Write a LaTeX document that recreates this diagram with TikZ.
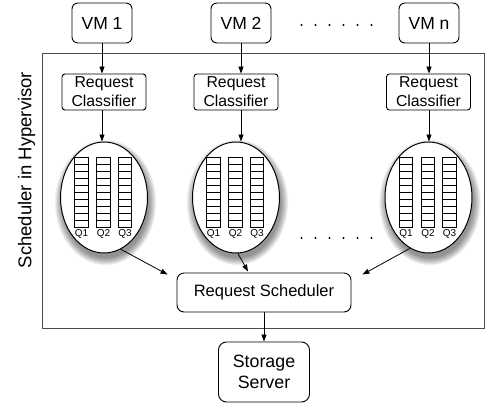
\documentclass[tikz,border=0pt]{standalone}
\usepackage{fontspec}
\setmainfont{Liberation Sans}
\usetikzlibrary{shapes.geometric,arrows.meta,calc}

\begin{document}
\begin{tikzpicture}[x=1pt,y=-1pt,
  box/.style={draw,line width=0.9pt,inner sep=0pt,align=center},
  vmbox/.style={box,rounded corners=6pt,minimum width=60pt,minimum height=40pt,
    font=\fontsize{17.5}{21}\selectfont},
  clsbox/.style={box,rounded corners=3pt,minimum width=84pt,minimum height=36pt,
    font=\fontsize{15.8}{19}\selectfont},
  schedbox/.style={box,rounded corners=7pt,minimum width=174pt,minimum height=39pt,
    font=\fontsize{16.5}{20}\selectfont},
  storebox/.style={box,rounded corners=8pt,minimum width=91pt,minimum height=60pt,
    font=\fontsize{17.8}{21}\selectfont},
  pool/.style={ellipse,draw,fill=white,line width=1pt,
    minimum width=87pt,minimum height=111pt,inner sep=0pt},
  qcell/.style={draw,line width=0.7pt},
  qlab/.style={inner sep=0pt,font=\fontsize{10}{11}\selectfont},
  arr/.style={-{Stealth[length=7pt,width=5pt,inset=0pt]},line width=0.8pt},
  hvframe/.style={draw=black!70,line width=0.9pt},
  dotmark/.style={fill=black},
]
\useasboundingbox (0,0) rectangle (488,405);

% hypervisor frame and its label
\draw[hvframe] (42,53) rectangle (484,328);
\node[rotate=90,font=\fontsize{18.5}{22}\selectfont] (hvlabel) at (26.5,170)
  {Scheduler in Hypervisor};

% virtual machines
\node[vmbox] (vm1) at (102,23) {VM 1};
\node[vmbox] (vm2) at (241,23) {VM 2};
\node[vmbox] (vmn) at (429,23) {VM n};
\foreach \k in {0,...,5} \fill[dotmark] (301.5+\k*14,25) circle (1.1);

% per-VM request classifiers
\node[clsbox] (cls1) at (104,92) {Request\\Classifier};
\node[clsbox] (cls2) at (236,92) {Request\\Classifier};
\node[clsbox] (clsn) at (428.5,92) {Request\\Classifier};

% soft shadows beneath the queue pools
\foreach \cx in {104,236,428.5} {
  \foreach \i in {1,...,9} {
    \fill[black,opacity=0.06] (\cx+1.5,202.5)
      ellipse [x radius=42.5pt+\i*0.9pt, y radius=54.5pt+\i*0.9pt];
  }
}

% queue pools
\node[pool] (e1) at (104,197.5) {};
\node[pool] (e2) at (236,197.5) {};
\node[pool] (en) at (428.5,197.5) {};

\foreach \cx [count=\p] in {104,236,428.5} {
  \foreach \dx/\q in {-22.5/Q1,-0.5/Q2,21/Q3} {
    \foreach \r in {0,...,9}
      \draw[qcell] (\cx+\dx-6.75,157+\r*7) rectangle ++(13.5,7);
    \node[qlab] (lab\p\q) at (\cx+\dx,233.5) {\q};
  }
}
\foreach \k in {0,...,5} \fill[dotmark] (301.5+\k*14,238) circle (1.1);

% scheduler and storage
\node[schedbox] (sched) at (264,292.5) {Request Scheduler};
\node[storebox] (store) at (264,372) {Storage\\Server};

% connectors
\draw[arr] (vm1) -- (vm1 |- cls1.north);
\draw[arr] (vm2) -- (vm2 |- cls2.north);
\draw[arr] (vmn) -- (vmn |- clsn.north);
\draw[arr] (vm1 |- cls1.south) -- (vm1 |- e1.north);
\draw[arr] (vm2 |- cls2.south) -- (vm2 |- e2.north);
\draw[arr] (vmn |- clsn.south) -- (vmn |- en.north);

\coordinate (in1) at ($(sched.north west)+(-9,2)$);
\coordinate (in2) at ($(sched.north)+(-16,-1)$);
\coordinate (in3) at ($(sched.north east)+(11,2)$);
\draw[arr] (e1.-72) -- (in1);
\draw[arr] (e2.-88) -- (in2);
\draw[arr] (en.-110) -- (in3);
\draw[arr] (sched) -- (store);
\end{tikzpicture}
\end{document}
